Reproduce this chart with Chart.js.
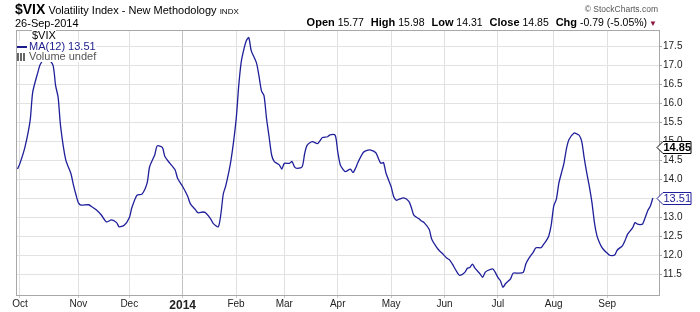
<!DOCTYPE html>
<html>
<head>
<meta charset="utf-8">
<script src="https://cdn.jsdelivr.net/npm/chart.js@4.4.1/dist/chart.umd.min.js"></script>
<style>
  body { margin: 0; background: #fff; font-family: "Liberation Sans", Arial, sans-serif; }
  #wrap { position: relative; width: 700px; height: 312px; }
  canvas { position: absolute; left: 0; top: 0; }
  .txt { position: absolute; white-space: nowrap; color: #000; }
  #title { left: 15px; top: 1px; font-size: 11px; }
  #title .sym { font-size: 14px; font-weight: bold; }
  #title .ex { font-size: 8px; }
  #date { left: 15px; top: 17px; font-size: 11px; }
  #ohlc { right: 43px; top: 16px; font-size: 10.5px; }
  #ohlc b { font-size: 11px; margin-left: 4px; }
  #ohlc b:first-child { margin-left: 0; }
  #ohlc .dn { color: #8b1538; font-size: 8px; margin-left: 2px; }
  #copy { right: 42px; top: 4px; font-size: 8.5px; color: #555; }
  #legend { left: 17px; top: 30px; font-size: 11px; line-height: 10.5px; z-index: 2; }
  #legend div { background: #fff; display: table; }
  #legend .ma { color: #1c1c8c; }
  #legend .vol { color: #555; }
  .dash { display: inline-block; width: 10px; height: 2px; background: #1c1c8c; vertical-align: middle; margin-right: 2px; }
  .bars { display: inline-block; width: 10px; height: 8px; vertical-align: -1px; margin-right: 2px;
          background: linear-gradient(90deg, #666 0 2px, #fff 2px 3px, #666 3px 5px, #fff 5px 6px, #666 6px 8px, #fff 8px); }
</style>
</head>
<body>
<div id="wrap">
  <canvas id="vixChart" width="700" height="312"></canvas>
  <div class="txt" id="title"><span class="sym">$VIX</span> Volatility Index - New Methodology <span class="ex">INDX</span></div>
  <div class="txt" id="date">26-Sep-2014</div>
  <div class="txt" id="ohlc"><b>Open</b> 15.77 <b>High</b> 15.98 <b>Low</b> 14.31 <b>Close</b> 14.85 <b>Chg</b> -0.79 (-5.05%)<span class="dn">&#9660;</span></div>
  <div class="txt" id="copy">&copy; StockCharts.com</div>
  <div class="txt" id="legend">
    <div style="margin-left:15px">$VIX</div>
    <div class="ma"><span class="dash"></span>MA(12) 13.51</div>
    <div class="vol"><span class="bars"></span>Volume undef</div>
  </div>
</div>
<script>
// trading day index, 0 = 1-Oct-2013
const tradingDay = [
  -1, 0, 2, 4, 5, 7, 8, 10, 11, 13, 14, 15, 16, 18, 20, 21, 22, 23, 24, 27, 28, 30, 32, 34, 36, 38, 39, 41,
  43, 44, 46, 48, 50, 51, 53, 54, 56, 57, 59, 61, 62, 64, 66, 67, 69, 70, 72, 73, 75, 76, 78, 79, 80, 81,
  83, 85, 86, 87, 88, 89, 90, 91, 93, 94, 95, 96, 97, 98, 99, 100, 102, 103, 104, 106, 107, 108, 109, 111,
  112, 113, 115, 117, 118, 119, 121, 122, 124, 125, 126, 127, 128, 130, 131, 132, 133, 135, 136, 138, 140,
  141, 142, 143, 144, 146, 147, 148, 149, 151, 153, 154, 155, 157, 158, 159, 161, 162, 164, 165, 166, 168,
  169, 170, 172, 173, 175, 176, 177, 178, 179, 181, 182, 183, 184, 186, 187, 188, 189, 190, 191, 193, 194,
  196, 198, 199, 200, 202, 203, 205, 206, 207, 208, 209, 210, 211, 212, 213, 214, 215, 216, 218, 219, 220,
  221, 222, 223, 224, 225, 226, 227, 228, 229, 230, 231, 232, 233, 234, 235, 237, 238, 239, 241, 242, 243,
  244, 245, 246, 247, 248, 249
];
const ma12 = [
  14.27, 14.42, 14.86, 15.55, 16.29, 16.81, 17.03, 17.2, 17.18, 17.0, 16.47, 16.16, 15.38, 14.51, 14.16, 13.86, 13.6, 13.38, 13.32, 13.33, 13.29, 13.2, 13.06, 12.88, 12.93, 12.86, 12.75, 12.79,
  12.99, 13.25, 13.58, 13.61, 13.9, 14.33, 14.64, 14.88, 14.84, 14.6, 14.42, 14.25, 14.03, 13.81, 13.55, 13.36, 13.2, 13.12, 13.14, 13.12, 12.96, 12.84, 12.75, 13.07, 13.62, 13.84,
  14.5, 15.55, 16.42, 17.07, 17.4, 17.64, 17.73, 17.38, 17.07, 16.73, 16.33, 16.2, 15.6, 15.12, 14.64, 14.47, 14.38, 14.27, 14.42, 14.42, 14.47, 14.33, 14.29, 14.33,
  14.68, 14.9, 14.99, 14.94, 15.01, 15.1, 15.12, 15.17, 15.16, 14.73, 14.38, 14.27, 14.2, 14.27, 14.18, 14.29, 14.45, 14.7, 14.75, 14.77, 14.7,
  14.55, 14.42, 14.44, 14.16, 13.81, 13.55, 13.45, 13.47, 13.51, 13.42, 13.25, 13.05, 12.96, 12.9, 12.86, 12.68, 12.42, 12.2, 12.12, 12.06, 11.92,
  11.88, 11.78, 11.55, 11.47, 11.55, 11.66, 11.68, 11.77, 11.66, 11.51, 11.42, 11.55, 11.6, 11.64, 11.55, 11.42, 11.33, 11.16, 11.25, 11.38, 11.53,
  11.53, 11.55, 11.77, 11.9, 12.09, 12.2, 12.2, 12.29, 12.38, 12.5, 12.8, 13.3, 13.47, 13.9, 14.16, 14.42, 14.81, 15.05, 15.22, 15.2, 15.16,
  15.0, 14.55, 14.16, 13.81, 13.4, 12.86, 12.51, 12.33, 12.2, 12.12, 12.06, 12.0, 11.99, 12.01, 12.14, 12.25, 12.38, 12.55, 12.72, 12.86, 12.82,
  12.81, 12.83, 13.0, 13.18, 13.3, 13.51
];
const monthDays = [0, 23, 43, 64, 85, 104, 125, 146, 167, 188, 210, 231];
const monthLabels = ['Oct', 'Nov', 'Dec', '2014', 'Feb', 'Mar', 'Apr', 'May', 'Jun', 'Jul', 'Aug', 'Sep'];
const yTickValues = [11.5, 12.0, 12.5, 13.0, 13.5, 14.0, 14.5, 15.0, 15.5, 16.0, 16.5, 17.0, 17.5];
const closeValue = 14.85;
const maValue = 13.51;

const FONT = '"Liberation Sans", Arial, sans-serif';
const LINE_BLUE = '#1f1f9a';

const framePlugin = {
  id: 'frame',
  afterDraw(chart) {
    const { ctx, chartArea: a, scales } = chart;
    ctx.save();
    ctx.strokeStyle = '#a8a8a8';
    ctx.lineWidth = 1;
    ctx.strokeRect(a.left + 0.5, a.top + 0.5, a.right - a.left, a.bottom - a.top);

    // value tags on the right axis
    const tag = (v, color, bold) => {
      const y = Math.round(scales.y.getPixelForValue(v)) + 0.5;
      const x0 = a.right - 2, x1 = a.right + 4, x2 = a.right + 32, h = 6;
      ctx.beginPath();
      ctx.moveTo(x0, y);
      ctx.lineTo(x1, y - h);
      ctx.lineTo(x2, y - h);
      ctx.lineTo(x2, y + h);
      ctx.lineTo(x1, y + h);
      ctx.closePath();
      ctx.fillStyle = '#fff';
      ctx.fill();
      ctx.strokeStyle = color;
      ctx.stroke();
      ctx.fillStyle = color;
      ctx.font = (bold ? 'bold ' : '') + '11px ' + FONT;
      ctx.textBaseline = 'middle';
      ctx.textAlign = 'left';
      ctx.fillText(v.toFixed(2), x1 + 0.5, y + 0.5);
    };
    tag(closeValue, '#000', true);
    tag(maValue, LINE_BLUE, false);
    ctx.restore();
  }
};

new Chart(document.getElementById('vixChart'), {
  type: 'line',
  data: {
    datasets: [{
      label: 'MA(12)',
      data: tradingDay.map((d, i) => ({ x: d, y: ma12[i] })),
      borderColor: LINE_BLUE,
      borderWidth: 1.3,
      pointRadius: 0,
      tension: 0.25,
      fill: false
    }]
  },
  options: {
    responsive: false,
    animation: false,
    layout: { padding: { left: 16, top: 30, right: 0, bottom: 0 } },
    plugins: { legend: { display: false }, tooltip: { enabled: false } },
    scales: {
      x: {
        type: 'linear',
        min: -1.57,
        max: 251.4,
        afterBuildTicks: (s) => { s.ticks = monthDays.map(v => ({ value: v })); },
        afterFit: (s) => { s.height = 17; },
        ticks: {
          autoSkip: false,
          maxRotation: 0,
          padding: 0,
          color: '#222',
          font: (c) => (c.tick && c.tick.value === 64)
            ? { family: FONT, size: 12, weight: 'bold' }
            : { family: FONT, size: 10 },
          callback: (v) => monthLabels[monthDays.indexOf(v)]
        },
        grid: {
          color: (c) => (c.tick && c.tick.value === 64) ? '#c2c2c2' : '#e0e0e0',
          tickColor: '#c8c8c8',
          tickLength: 3
        },
        border: { color: '#a8a8a8' }
      },
      y: {
        position: 'right',
        min: 10.955,
        max: 17.93,
        afterBuildTicks: (s) => { s.ticks = yTickValues.map(v => ({ value: v })); },
        afterFit: (s) => { s.width = 41; },
        ticks: {
          padding: 1,
          color: '#222',
          font: { family: FONT, size: 10 },
          callback: (v) => v.toFixed(1)
        },
        grid: {
          color: '#e2e2e2',
          tickColor: '#a8a8a8',
          tickLength: 3
        },
        border: { color: '#a8a8a8' }
      }
    }
  },
  plugins: [framePlugin]
});
</script>
</body>
</html>
